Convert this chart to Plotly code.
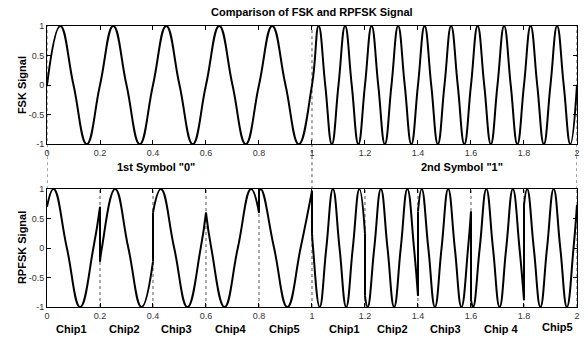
import plotly.graph_objects as go

# ---------------- data ----------------
# FSK signal: key points (zero crossings, peaks, troughs) in time (s)
fsk_t = [0.0, 0.05, 0.1, 0.15, 0.2, 0.25, 0.3, 0.35, 0.4, 0.45, 0.5,
         0.55, 0.6, 0.65, 0.7, 0.75, 0.8, 0.85, 0.9, 0.95, 1.0,
         1.025, 1.05, 1.075, 1.1, 1.125, 1.15, 1.175, 1.2, 1.225, 1.25,
         1.275, 1.3, 1.325, 1.35, 1.375, 1.4, 1.425, 1.45, 1.475, 1.5,
         1.525, 1.55, 1.575, 1.6, 1.625, 1.65, 1.675, 1.7, 1.725, 1.75,
         1.775, 1.8, 1.825, 1.85, 1.875, 1.9, 1.925, 1.95, 1.975, 2.0]
fsk_v = [0, 1, 0, -1, 0, 1, 0, -1, 0, 1, 0,
         -1, 0, 1, 0, -1, 0, 1, 0, -1, 0,
         1, 0, -1, 0, 1, 0, -1, 0, 1, 0,
         -1, 0, 1, 0, -1, 0, 1, 0, -1, 0,
         1, 0, -1, 0, 1, 0, -1, 0, 1, 0,
         -1, 0, 1, 0, -1, 0, 1, 0, -1, 0]

# RPFSK signal: key points per chip (random phase at each chip start)
rp_t = [
    [0.0, 0.025, 0.075, 0.125, 0.175, 0.2],
    [0.2, 0.207, 0.257, 0.307, 0.357, 0.4],
    [0.4, 0.43, 0.48, 0.53, 0.58, 0.6],
    [0.6, 0.62, 0.67, 0.72, 0.77, 0.8],
    [0.8, 0.807, 0.857, 0.907, 0.957, 1.0],
    [1.0, 1.004, 1.029, 1.054, 1.079, 1.104, 1.129, 1.154, 1.179, 1.2],
    [1.2, 1.21, 1.235, 1.26, 1.285, 1.31, 1.335, 1.36, 1.385, 1.4],
    [1.4, 1.414, 1.439, 1.464, 1.489, 1.514, 1.539, 1.564, 1.589, 1.6],
    [1.6, 1.608, 1.633, 1.658, 1.683, 1.708, 1.733, 1.758, 1.783, 1.8],
    [1.8, 1.812, 1.837, 1.862, 1.887, 1.912, 1.937, 1.962, 1.987, 2.0],
]
rp_v = [
    [0.7, 1, 0, -1, 0, 0.7],
    [-0.23, 0, 1, 0, -1, -0.23],
    [0.6, 1, 0, -1, 0, 0.6],
    [0.6, 0, -1, 0, 1, 0.6],
    [0.97, 1, 0, -1, 0, 0.97],
    [0.25, 0, -1, 0, 1, 0, -1, 0, 1, 0.25],
    [-0.81, -1, 0, 1, 0, -1, 0, 1, 0, -0.81],
    [0.62, 1, 0, -1, 0, 1, 0, -1, 0, 0.62],
    [-0.88, -1, 0, 1, 0, -1, 0, 1, 0, -0.88],
    [0.73, 1, 0, -1, 0, 1, 0, -1, 0, 0.73],
]

chip_edges = [0.2, 0.4, 0.6, 0.8, 1.0, 1.2, 1.4, 1.6, 1.8, 2.0]
symbol_edges = [0.0, 1.0, 2.0]

chip_labels = ["Chip1", "Chip2", "Chip3", "Chip4", "Chip5",
               "Chip1", "Chip2", "Chip3", "Chip 4", "Chip5"]
chip_label_x = [0.094, 0.293, 0.487, 0.694, 0.897,
                1.121, 1.302, 1.502, 1.712, 1.925]
symbol_labels = ['1st Symbol "0"', '2nd Symbol "1"']
symbol_label_x = [0.41, 1.567]

x_ticks = [0, 0.2, 0.4, 0.6, 0.8, 1, 1.2, 1.4, 1.6, 1.8, 2]
x_tick_text = ["0", "0.2", "0.4", "0.6", "0.8", "1", "1.2", "1.4", "1.6", "1.8", "2"]
y_ticks = [-1, -0.5, 0, 0.5, 1]
y_tick_text = ["-1", "-0.5", "0", "0.5", "1"]

# ---------------- figure ----------------
FONT = "Liberation Sans, Arial, sans-serif"
fig = go.Figure()

fig.add_trace(go.Scatter(x=fsk_t, y=fsk_v, mode="lines",
                         line=dict(color="black", width=2, shape="spline", smoothing=1.3),
                         xaxis="x", yaxis="y", hoverinfo="skip", showlegend=False))

seg_x, seg_y = [], []
for ts, vs in zip(rp_t, rp_v):
    seg_x += ts + [None]
    seg_y += vs + [None]
fig.add_trace(go.Scatter(x=seg_x, y=seg_y, mode="lines", connectgaps=False,
                         line=dict(color="black", width=2, shape="spline", smoothing=1.3),
                         xaxis="x2", yaxis="y2", hoverinfo="skip", showlegend=False))

jx, jy = [], []
for i in range(len(rp_t) - 1):
    jx += [rp_t[i][-1], rp_t[i + 1][0], None]
    jy += [rp_v[i][-1], rp_v[i + 1][0], None]
fig.add_trace(go.Scatter(x=jx, y=jy, mode="lines",
                         line=dict(color="black", width=2),
                         xaxis="x2", yaxis="y2", hoverinfo="skip", showlegend=False))

DOT = dict(color="#555555", width=1, dash="dot")
shapes = []
for e in chip_edges:
    shapes.append(dict(type="line", xref="x2", yref="y2", x0=e, x1=e, y0=-1, y1=1,
                       line=DOT, layer="below"))
for e in symbol_edges:
    shapes.append(dict(type="line", xref="x", yref="paper", x0=e, x1=e, y0=0.4195, y1=1,
                       line=DOT, layer="below"))

LABEL_FONT = dict(family=FONT, size=11, color="black")
annotations = []
for lab, xx in zip(chip_labels, chip_label_x):
    yy = -0.071 if (lab == "Chip5" and xx > 1) else -0.078
    annotations.append(dict(text="<b>%s</b>" % lab, x=xx, y=yy, xref="x2", yref="paper",
                            xanchor="center", yanchor="middle",
                            showarrow=False, font=LABEL_FONT))
for lab, xx in zip(symbol_labels, symbol_label_x):
    annotations.append(dict(text="<b>%s</b>" % lab, x=xx, y=0.4988, xref="x2", yref="paper",
                            xanchor="center", yanchor="middle",
                            showarrow=False, font=LABEL_FONT))
annotations.append(dict(text="<b>FSK Signal</b>", x=-0.047, y=0.79, xref="paper", yref="paper",
                        xanchor="center", yanchor="middle",
                        textangle=-90, showarrow=False, font=LABEL_FONT))
annotations.append(dict(text="<b>RPFSK Signal</b>", x=-0.047, y=0.21, xref="paper", yref="paper",
                        xanchor="center", yanchor="middle",
                        textangle=-90, showarrow=False, font=LABEL_FONT))
annotations.append(dict(text="<b>Comparison of FSK and RPFSK Signal</b>", x=0.5, y=1.0498,
                        xref="paper", yref="paper", xanchor="center", yanchor="middle",
                        showarrow=False, font=LABEL_FONT))

axis_common = dict(showline=True, linecolor="black", linewidth=1, mirror="ticks",
                   ticks="inside", ticklen=4, tickwidth=1, tickcolor="black",
                   showgrid=False, zeroline=False, fixedrange=True,
                   ticklabeloverflow="allow",
                   tickfont=dict(family=FONT, size=9, color="#333333"))

fig.update_layout(
    width=588, height=337,
    margin=dict(l=47, r=8.5, t=26, b=29.7),
    paper_bgcolor="white", plot_bgcolor="white",
    xaxis=dict(domain=[0, 1], range=[0, 2.0001], anchor="y", tickvals=x_ticks,
               ticktext=x_tick_text, **axis_common),
    yaxis=dict(domain=[0.5794, 1], range=[-1, 1], anchor="x", tickvals=y_ticks,
               ticktext=y_tick_text, **axis_common),
    xaxis2=dict(domain=[0, 1], range=[0, 2.0001], anchor="y2", tickvals=x_ticks,
                ticktext=x_tick_text, **axis_common),
    yaxis2=dict(domain=[0, 0.4195], range=[-1, 1], anchor="x2", tickvals=y_ticks,
                ticktext=y_tick_text, **axis_common),
    shapes=shapes, annotations=annotations, showlegend=False,
)

fig.write_html("out.html", config={"displayModeBar": False},
               post_script="document.body.style.margin='0px';")
